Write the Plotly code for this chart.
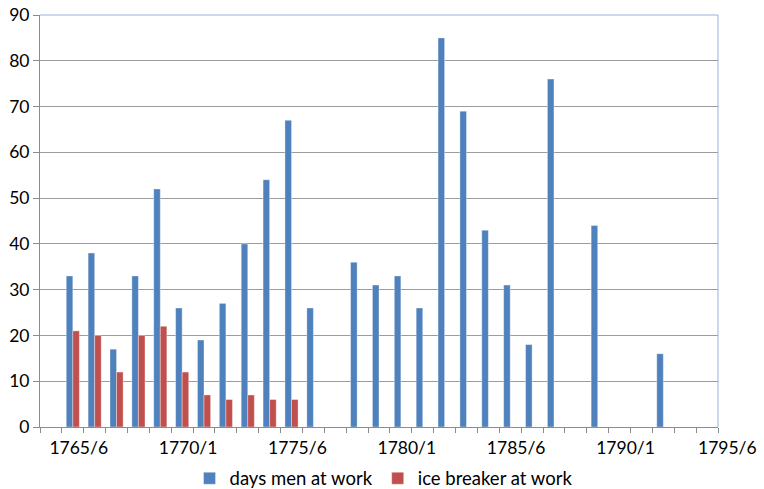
import plotly.graph_objects as go

# Winter seasons (start year of each season) and values
start_years = list(range(1765, 1793))
days_men_at_work = [33, 38, 17, 33, 52, 26, 19, 27, 40, 54, 67, 26, None, 36,
                    31, 33, 26, 85, 69, 43, 31, 18, 76, None, 44, None, None, 16]
ice_breaker_at_work = [21, 20, 12, 20, 22, 12, 7, 6, 7, 6, 6] + [None] * 17

tick_labels = ["1765/6", "1770/1", "1775/6", "1780/1", "1785/6", "1790/1", "1795/6"]
tick_years = [1765, 1770, 1775, 1780, 1785, 1790, 1795]
y_ticks = [0, 10, 20, 30, 40, 50, 60, 70, 80, 90]

BLUE = "#4F81BD"
RED = "#C0504D"
GRID = "#9C9C9C"
AXIS = "#8C8C8C"
FONT = "Lato"
FS = 17.5
LFS = 18.5

x_min = start_years[0] - 1.5
x_max = x_min + 31

fig = go.Figure()
fig.add_trace(go.Bar(x=start_years, y=days_men_at_work, name="days men at work",
                     marker=dict(color=BLUE, line=dict(color="rgba(255,255,255,0.6)", width=0.6))))
fig.add_trace(go.Bar(x=start_years, y=ice_breaker_at_work, name="ice breaker at work",
                     marker=dict(color=RED, line=dict(color="rgba(255,255,255,0.6)", width=0.6))))

shown = [(y + 0.5, t) for y, t in zip(tick_years, tick_labels) if y + 0.5 <= x_max]
outside = [(y + 0.5, t) for y, t in zip(tick_years, tick_labels) if y + 0.5 > x_max]

fig.update_layout(
    width=764, height=489,
    margin=dict(l=40, r=46, t=15, b=62, autoexpand=False),
    paper_bgcolor="white", plot_bgcolor="white",
    barmode="group", bargap=0.4, bargroupgap=0,
    font=dict(family=FONT, size=FS, color="black"),
    showlegend=True,
    legend=dict(orientation="h", xref="container", yref="container",
                x=0.502, xanchor="center", y=0.021, yanchor="middle",
                font=dict(family=FONT, size=LFS, color="black"),
                itemwidth=30, traceorder="normal", bgcolor="rgba(0,0,0,0)"),
    xaxis=dict(range=[x_min, x_max], tickmode="array",
               tickvals=[p for p, _ in shown], ticktext=[t for _, t in shown],
               ticks="outside", ticklen=5, tickcolor=AXIS, ticklabelshift=-5,
               minor=dict(tickmode="linear", tick0=x_min, dtick=1, ticks="outside",
                          ticklen=5, tickcolor=AXIS, showgrid=False),
               showgrid=False, showline=True, linecolor=AXIS, linewidth=1,
               zeroline=False, fixedrange=True, automargin=False),
    yaxis=dict(range=[0, 90], tickmode="array", tickvals=y_ticks,
               ticks="outside", ticklen=6, tickcolor=AXIS,
               showgrid=True, gridcolor=GRID, gridwidth=1.2,
               showline=True, linecolor=AXIS, linewidth=1,
               zeroline=False, fixedrange=True, automargin=False),
)

for p, t in outside:
    fig.add_annotation(x=(p - x_min) / (x_max - x_min), xref="paper", y=0, yref="paper",
                       xanchor="center", yanchor="top", yshift=-8, xshift=-12,
                       text=t, showarrow=False,
                       font=dict(family=FONT, size=FS, color="black"))

# Plot-area border (top and right) in light blue
fig.add_shape(type="line", xref="paper", yref="paper", x0=0, x1=1, y0=1, y1=1,
              line=dict(color="#95B3D7", width=1))
fig.add_shape(type="line", xref="paper", yref="paper", x0=1, x1=1, y0=0, y1=1,
              line=dict(color="#95B3D7", width=1))

fig.write_html("out.html", config={"displayModeBar": False},
               post_script="document.body.style.margin='0px';")
